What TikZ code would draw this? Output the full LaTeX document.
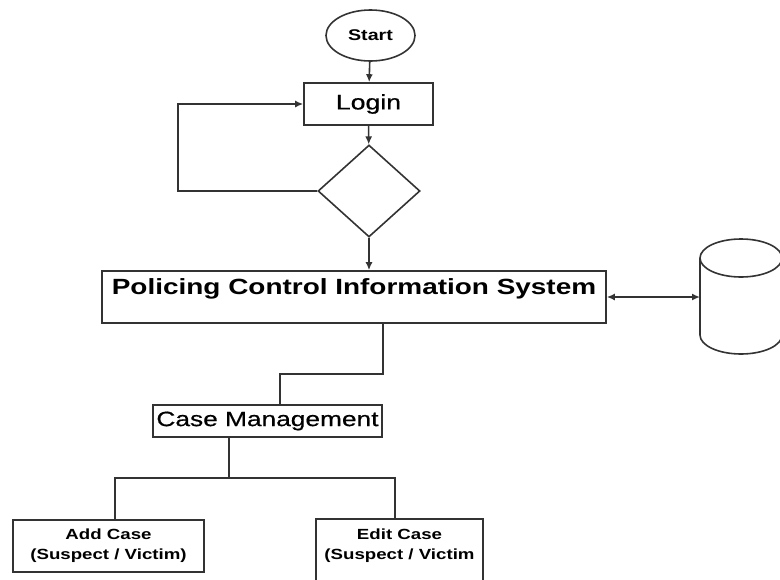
\documentclass[tikz,border=0pt]{standalone}
\usepackage{fontspec}
\setmainfont{Liberation Sans}[FakeStretch=1.27]
\newfontfamily\heavyreg{Liberation Sans}[FakeStretch=1.27,FakeBold=0.6]
\usetikzlibrary{arrows.meta,shapes.geometric}

\begin{document}
\begin{tikzpicture}[x=1pt,y=-1pt,
  line width=1.6pt,
  ink/.style={draw=black!80},
  box/.style={ink, rectangle, inner sep=0pt, align=center},
  tip/.tip={Latex[length=8pt,width=7pt]},
  arr/.style={ink, -tip},
  link/.style={ink}]
  \useasboundingbox (0,0) rectangle (780,579);
  \clip (0,0) rectangle (780,579);

  % process nodes
  \node[ink, ellipse, inner sep=0pt, minimum width=89, minimum height=51,
        font=\bfseries\fontsize{15.5}{18}\selectfont] (start) at (370.5,35.5) {Start};
  \node[box, minimum width=129, minimum height=42,
        font=\heavyreg\fontsize{21}{24}\selectfont] (login) at (368.5,104) {Login};
  \node[ink, diamond, inner sep=0pt, minimum width=102, minimum height=92] (dec) at (369,191) {};
  \node[box, minimum width=504, minimum height=52,
        font=\bfseries\fontsize{22}{26}\selectfont] (pcis) at (354,297)
        {\raisebox{3pt}[0pt][0pt]{Policing Control Information System}};
  \node[box, minimum width=229, minimum height=32,
        font=\heavyreg\fontsize{20.7}{24}\selectfont] (cm) at (267.5,421) {Case Management};
  \node[box, minimum width=191, minimum height=52,
        font=\bfseries\fontsize{14.7}{20}\selectfont] (add) at (108.5,546)
        {Add Case\\(Suspect / Victim)};
  \node[rectangle, inner sep=0pt, align=center, minimum width=165, minimum height=52,
        font=\bfseries\fontsize{14.7}{20}\selectfont] (edit) at (399.5,546)
        {Edit Case\\(Suspect / Victim};
  \draw[ink] ([yshift=-60pt]edit.south west) -- (edit.north west)
        -- (edit.north east) -- ([yshift=-60pt]edit.south east);

  % database cylinder
  \coordinate (db) at (700,297);
  \draw[ink] (700,258) -- (700,335) arc[start angle=180, end angle=0, x radius=41, y radius=19] -- (782,258);
  \draw[ink] (741,258) ellipse[x radius=41, y radius=19];

  % flow
  \draw[arr] (start) -- (login);
  \draw[arr] (login) -- (dec);
  \draw[arr] (dec) -- (pcis.north -| dec);
  \coordinate (loop) at (178,0);
  \draw[arr] (dec.west) -- (dec.west -| loop) |- (login.west);
  \draw[ink, tip-tip] (pcis.east) -- (db);

  % hierarchy
  \coordinate (j1) at (280,374);
  \draw[link] (cm.east |- pcis.south) |- (j1) -- (j1 |- cm.north);
  \coordinate (bus) at (229,478);
  \coordinate (a1) at (115,0);
  \coordinate (e1) at (395,0);
  \draw[link] (cm.south -| bus) -- (bus);
  \draw[link] (add.north -| a1) -- (bus -| a1) -- (bus -| e1) -- (edit.north -| e1);
\end{tikzpicture}
\end{document}
